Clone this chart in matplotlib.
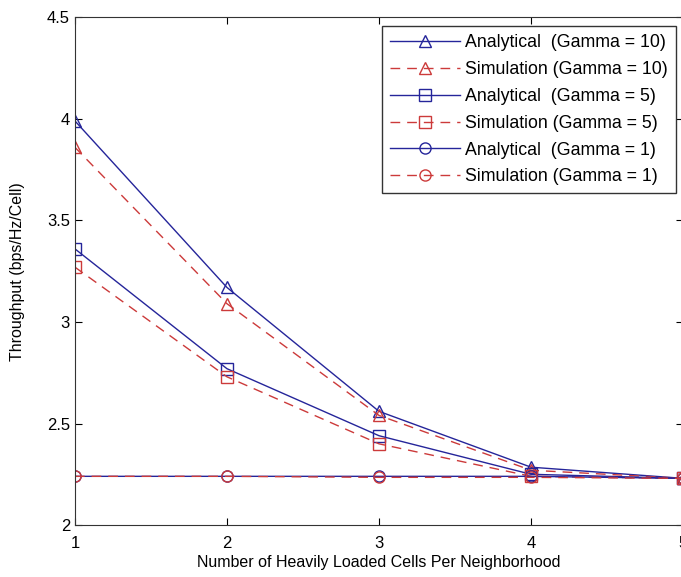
import numpy as np
import matplotlib.pyplot as plt

plt.rcParams['font.family'] = ['Liberation Sans', 'DejaVu Sans']

# ---------- data ----------
cells = [1, 2, 3, 4, 5]
ana_g10 = [3.99, 3.17, 2.56, 2.285, 2.23]
sim_g10 = [3.86, 3.09, 2.54, 2.27, 2.23]
ana_g5 = [3.36, 2.77, 2.44, 2.25, 2.23]
sim_g5 = [3.27, 2.73, 2.40, 2.24, 2.23]
ana_g1 = [2.24, 2.24, 2.24, 2.24, 2.23]
sim_g1 = [2.24, 2.24, 2.235, 2.235, 2.23]

blue = '#25259a'
red = '#cc3a3a'

fig = plt.figure(figsize=(6.81, 5.77), dpi=100)
ax = fig.add_axes([0.110, 0.090, 0.893, 0.880])

ms = 9
ax.plot(cells, ana_g10, '-', color=blue, marker='^', mfc='none', ms=ms, lw=1,
        label='Analytical  (Gamma = 10)')
ax.plot(cells, sim_g10, '--', color=red, marker='^', mfc='none', ms=ms, lw=1,
        dashes=(7, 5), label='Simulation (Gamma = 10)')
ax.plot(cells, ana_g5, '-', color=blue, marker='s', mfc='none', ms=ms - 1, lw=1,
        label='Analytical  (Gamma = 5)')
ax.plot(cells, sim_g5, '--', color=red, marker='s', mfc='none', ms=ms - 1, lw=1,
        dashes=(7, 5), label='Simulation (Gamma = 5)')
ax.plot(cells, ana_g1, '-', color=blue, marker='o', mfc='none', ms=ms - 1, lw=1,
        label='Analytical  (Gamma = 1)')
ax.plot(cells, sim_g1, '--', color=red, marker='o', mfc='none', ms=ms - 1, lw=1,
        dashes=(7, 5), label='Simulation (Gamma = 1)')

ax.set_xlim(1, 5)
ax.set_ylim(2, 4.5)
ax.set_xticks(cells)
ax.set_yticks([2, 2.5, 3, 3.5, 4, 4.5])
ax.set_yticklabels(['2', '2.5', '3', '3.5', '4', '4.5'])
ax.tick_params(direction='in', top=True, right=True, length=5, labelsize=12)
ax.tick_params(axis='x', pad=8)
for s in ax.spines.values():
    s.set_color('#333333')

ax.set_xlabel('Number of Heavily Loaded Cells Per Neighborhood', fontsize=11.5,
              labelpad=3)
ax.set_ylabel('Throughput (bps/Hz/Cell)', fontsize=11.5, labelpad=16)

leg = ax.legend(loc='upper right', bbox_to_anchor=(0.988, 0.982), fontsize=12.8,
                handlelength=3.9, labelspacing=0.55, borderpad=0.45,
                handletextpad=0.3, borderaxespad=0, fancybox=False,
                framealpha=1, edgecolor='#333333')
leg.get_frame().set_linewidth(1)

fig.savefig('out.png', dpi=100)
